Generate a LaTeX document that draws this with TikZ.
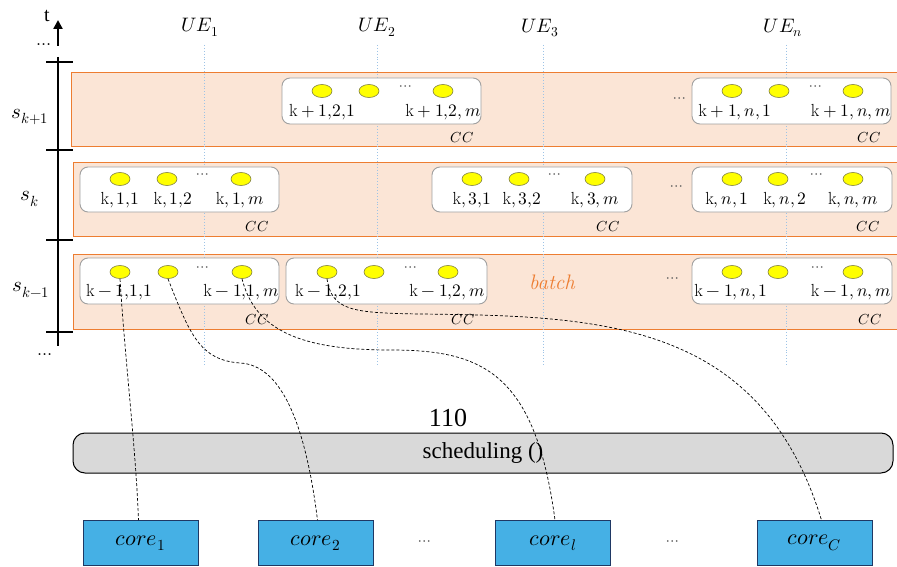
\documentclass[tikz,border=0pt]{standalone}
\usepackage{fontspec}
\usepackage{unicode-math}
\setmathfont{Latin Modern Math}
\newfontfamily\timesf{Liberation Serif}
\usetikzlibrary{arrows.meta,shapes.geometric}
\definecolor{bandfill}{HTML}{FBE5D6}
\definecolor{bandline}{HTML}{ED7D31}
\definecolor{uecol}{HTML}{9DC3E6}
\definecolor{corefill}{HTML}{45B0E5}
\definecolor{coreline}{HTML}{1F3864}
\definecolor{ellfill}{HTML}{FFFF00}
\definecolor{ellline}{HTML}{7F7F40}
\definecolor{ccline}{HTML}{A0A0A0}
\definecolor{schedfill}{HTML}{D9D9D9}
\tikzset{
  band/.style={fill=bandfill, draw=bandline, line width=0.8pt},
  ueline/.style={draw=uecol, dotted, line width=0.9pt},
  ccbox/.style={draw=ccline, fill=white, rounded corners=8pt, line width=0.9pt, minimum height=46pt, minimum width=199pt, inner sep=0pt},
  job/.style={ellipse, draw=ellline, fill=ellfill, minimum width=20pt, minimum height=13pt, inner sep=0pt, line width=0.6pt},
  lbl/.style={font=\fontsize{17.5}{20}\selectfont, inner sep=0pt},
  dts/.style={font=\fontsize{16}{18}\selectfont, text=black!65, inner sep=0pt},
  cclbl/.style={font=\fontsize{14.5}{17}\selectfont, inner sep=0pt},
  uelbl/.style={font=\fontsize{19.5}{22}\selectfont, inner sep=0pt},
  slbl/.style={font=\fontsize{21}{24}\selectfont, inner sep=0pt},
  axis/.style={line width=2.6pt, black},
  tick/.style={line width=2pt, black},
  link/.style={line width=0.7pt, dash pattern=on 3pt off 2pt},
  corebox/.style={draw=coreline, fill=corefill, minimum width=115pt, minimum height=45pt, inner sep=0pt, line width=0.8pt, font=\fontsize{22}{25}\selectfont},
  sched/.style={draw=black, fill=schedfill, rounded corners=12pt, minimum width=820pt, minimum height=40pt, inner sep=0pt, line width=1pt, font=\timesf\fontsize{23}{26}\selectfont},
}
\begin{document}
\begin{tikzpicture}[x=1pt,y=-1pt]
\useasboundingbox (0,0) rectangle (897,567);

% bands
\path[band] (71,72) rectangle (905,146);
\path[band] (73,162) rectangle (905,236);
\path[band] (73,254) rectangle (905,329);

% UE lines
\foreach \n/\x in {1/204,2/377,3/543,4/786}{
  \coordinate (uet\n) at (\x,45);
  \coordinate (ueb\n) at (\x,365);
  \draw[ueline] (uet\n) -- (ueb\n);
}
\node[uelbl] (ue1) at (200,27) {$UE_1$};
\node[uelbl] (ue2) at (377,27) {$UE_2$};
\node[uelbl] (ue3) at (540,28) {$UE_3$};
\node[uelbl] (uen) at (783,28) {$UE_n$};

% time axis
\coordinate (ta0) at (58,46);
\coordinate (ta1) at (58,20);
\draw[axis,-{Triangle[length=9pt,width=9pt]}] (ta0) -- (ta1);
\coordinate (ax0) at (58,57);
\coordinate (ax1) at (58,346);
\draw[axis] (ax0) -- (ax1);
\foreach \i/\y in {1/62,2/150,3/240,4/332}{
  \coordinate (tl\i) at (46,\y);
  \coordinate (tr\i) at (73,\y);
  \draw[tick] (tl\i) -- (tr\i);
}
\node[font=\timesf\fontsize{20}{22}\selectfont, inner sep=0pt] (tlab) at (47,16) {t};
\node[font=\fontsize{18}{20}\selectfont, inner sep=0pt, anchor=base] (tdots) at (44,46) {$\ldots$};
\node[font=\fontsize{18}{20}\selectfont, inner sep=0pt, anchor=base] (bdots) at (45,355) {$\ldots$};
\node[slbl] (s1) at (30,117) {$s_{k+1}$};
\node[slbl] (s2) at (30,199) {$s_k$};
\node[slbl] (s3) at (31,290) {$s_{k-1}$};

% row 1 boxes
\node[ccbox] (A) at (381.5,101) {};
\node[job] (a1) at (322,91) {};
\node[job] (a2) at (369,91) {};
\node[job] (a3) at (443,91) {};
\node[dts] (ad) at (406,88) {$\cdots$};
\node[lbl] (la1) at (322,112) {$\mathrm{k}+1{,}2{,}1$};
\node[lbl] (la3) at (443,112) {$\mathrm{k}+1{,}2,m$};
\node[cclbl] (ca) at (462,138) {$CC$};

\node[dts] (d1) at (680,100) {$\cdots$};
\node[ccbox] (B) at (791.5,101) {};
\node[job] (b1) at (732,91) {};
\node[job] (b2) at (779,91) {};
\node[job] (b3) at (853,91) {};
\node[dts] (bd) at (816,88) {$\cdots$};
\node[lbl] (lb1) at (735,112) {$\mathrm{k}+1,n,1$};
\node[lbl] (lb3) at (851,112) {$\mathrm{k}+1,n,m$};
\node[cclbl] (cb) at (869,138) {$CC$};

% row 2 boxes
\node[ccbox, minimum height=45pt] (C) at (179.5,189.5) {};
\node[job] (c1) at (120,179) {};
\node[job] (c2) at (167,179) {};
\node[job] (c3) at (241,179) {};
\node[dts] (cd) at (203,176) {$\cdots$};
\node[lbl] (lc1) at (120,200) {$\mathrm{k},1{,}1$};
\node[lbl] (lc2) at (173,200) {$\mathrm{k},1{,}2$};
\node[lbl] (lc3) at (240,200) {$\mathrm{k},1,m$};
\node[cclbl] (cc) at (257,227) {$CC$};

\node[ccbox, minimum height=45pt, minimum width=200pt] (D) at (532,189.5) {};
\node[job] (dd1) at (472,179) {};
\node[job] (dd2) at (519,179) {};
\node[job] (dd3) at (595,179) {};
\node[dts] (ddd) at (555,176) {$\cdots$};
\node[lbl] (ld1) at (472,200) {$\mathrm{k},3{,}1$};
\node[lbl] (ld2) at (522,200) {$\mathrm{k},3{,}2$};
\node[lbl] (ld3) at (595,200) {$\mathrm{k},3,m$};
\node[cclbl] (cdl) at (608,227) {$CC$};

\node[dts] (d2) at (677,188) {$\cdots$};
\node[ccbox, minimum height=45pt, minimum width=200pt] (E) at (792,189.5) {};
\node[job] (e1) at (732,179) {};
\node[job] (e2) at (778,179) {};
\node[job] (e3) at (853,179) {};
\node[dts] (ed) at (817,176) {$\cdots$};
\node[lbl] (le1) at (727,200) {$\mathrm{k},n,1$};
\node[lbl] (le2) at (785,200) {$\mathrm{k},n,2$};
\node[lbl] (le3) at (853,200) {$\mathrm{k},n,m$};
\node[cclbl] (ce) at (868,227) {$CC$};

% row 3 boxes
\node[ccbox] (F) at (179.5,281) {};
\node[job] (f1) at (120,272) {};
\node[job] (f2) at (168,272) {};
\node[job] (f3) at (242,272) {};
\node[dts] (fd) at (203,269) {$\cdots$};
\node[lbl] (lf1) at (119,292) {$\mathrm{k}-1{,}1{,}1$};
\node[lbl] (lf3) at (241,292) {$\mathrm{k}-1{,}1,m$};
\node[cclbl] (cf) at (257,320) {$CC$};

\node[ccbox, minimum width=201pt] (G) at (386.5,281) {};
\node[job] (g1) at (327,272) {};
\node[job] (g2) at (374,272) {};
\node[job] (g3) at (448,272) {};
\node[dts] (gd) at (411,269) {$\cdots$};
\node[lbl] (lg1) at (328,292) {$\mathrm{k}-1{,}2{,}1$};
\node[lbl] (lg3) at (447,292) {$\mathrm{k}-1{,}2,m$};
\node[cclbl] (cg) at (463,320) {$CC$};

\node[font=\fontsize{21}{24}\selectfont\itshape, text=bandline, inner sep=0pt] (batch) at (552,282) {batch};

\node[dts] (d3) at (673,280) {$\cdots$};
\node[ccbox, minimum width=200pt] (H) at (792,281) {};
\node[job] (h1) at (732,272) {};
\node[job] (h2) at (778,272) {};
\node[job] (h3) at (853,272) {};
\node[dts] (hd) at (818,269) {$\cdots$};
\node[lbl] (lh1) at (731,292) {$\mathrm{k}-1,n,1$};
\node[lbl] (lh3) at (851,292) {$\mathrm{k}-1,n,m$};
\node[cclbl] (ch) at (870,320) {$CC$};

% scheduling bar
\node[sched] (sched) at (483,453) {scheduling ()};
\node[font=\timesf\fontsize{26}{29}\selectfont, inner sep=0pt] (n110) at (448,418) {110};

% cores
\node[corebox] (core1) at (140.5,543) {$core_1$};
\node[corebox] (core2) at (315.5,543) {$core_2$};
\node[corebox] (corel) at (553,543) {$core_l$};
\node[corebox] (coreC) at (814.5,543) {$core_C$};
\node[dts, text=black!70] (cd1) at (425,543) {$\cdots$};
\node[dts, text=black!70] (cd2) at (673,543) {$\cdots$};

% links
\draw[link] (f1.south) .. controls (125,360) and (136,450) .. ([xshift=-2pt]core1.north);
\draw[link] (f2.south) .. controls (190,335) and (200,360) .. (240,363)
                       .. controls (280,365) and (305,420) .. ([xshift=2pt]core2.north);
\draw[link] (f3.south) .. controls (255,330) and (300,350) .. (390,350)
                       .. controls (480,350) and (535,370) .. ([xshift=2pt]corel.north);
\draw[link] (g1.south) .. controls (332,310) and (350,313) .. (420,314)
                       .. controls (600,316) and (760,320) .. ([xshift=7pt]coreC.north);
\end{tikzpicture}
\end{document}
